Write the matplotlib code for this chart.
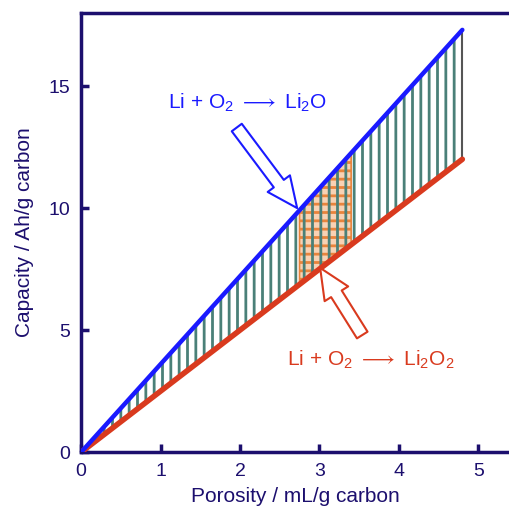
import matplotlib
matplotlib.use("Agg")
import matplotlib.pyplot as plt
import matplotlib.patches as mpatches

plt.rcParams['font.family'] = ['Liberation Sans', 'DejaVu Sans']
plt.rcParams['mathtext.fontset'] = 'custom'
plt.rcParams['mathtext.rm'] = 'Liberation Sans'
plt.rcParams['mathtext.it'] = 'Liberation Sans'
plt.rcParams['hatch.linewidth'] = 2.0

# capacity lines for the two discharge products
porosity = [0.0, 4.8]
cap_li2o = [0.0, 17.3]
cap_li2o2 = [0.0, 12.0]

# highlighted band
band_x = [2.75, 3.4]
band_low = [6.9, 8.5]
band_high = [9.95, 12.3]

x_ticks = [0, 1, 2, 3, 4, 5]
y_ticks = [0, 5, 10, 15]

navy = '#1c0f6e'
blue = '#1a1aff'
red = '#d93a1e'
teal = '#4a8078'

fig = plt.figure(figsize=(5.10, 5.11), dpi=100)
ax = fig.add_axes([0.159, 0.115, 0.841, 0.86])

# orange band with horizontal lines
ax.fill_between(band_x, band_low, band_high, facecolor='#f8d2b4',
                edgecolor='#e8843c', hatch='--', linewidth=1.2, zorder=1)
# vertical hatch between the lines
ax.fill_between(porosity, cap_li2o2, cap_li2o, facecolor='none',
                edgecolor=teal, hatch='||', linewidth=0, zorder=2)
ax.vlines(porosity[-1], cap_li2o2[-1], cap_li2o[-1], color='#555555', lw=1.5, zorder=2)

ax.plot(porosity, cap_li2o2, color=red, lw=4, solid_capstyle='round', zorder=3)
ax.plot(porosity, cap_li2o, color=blue, lw=3.2, solid_capstyle='round', zorder=4)

arrow_style = mpatches.ArrowStyle.Simple(head_length=1.1, head_width=1.0, tail_width=0.45)
ax.annotate('', xy=(2.72, 10.0), xytext=(1.96, 13.3),
            arrowprops=dict(arrowstyle=arrow_style, mutation_scale=20,
                            fc='white', ec=blue, lw=1.5, shrinkA=0, shrinkB=0), zorder=5)
ax.annotate('', xy=(3.01, 7.55), xytext=(3.54, 4.8),
            arrowprops=dict(arrowstyle=arrow_style, mutation_scale=20,
                            fc='white', ec=red, lw=1.5, shrinkA=0, shrinkB=0), zorder=5)

ax.text(2.1, 14.3, r'Li + O$_2$ $\longrightarrow$ Li$_2$O', color=blue, fontsize=15,
        ha='center', va='center')
ax.text(3.65, 3.8, r'Li + O$_2$ $\longrightarrow$ Li$_2$O$_2$', color=red, fontsize=15,
        ha='center', va='center')

ax.set_xlim(0, 5.4)
ax.set_ylim(0, 18)
ax.set_xticks(x_ticks)
ax.set_yticks(y_ticks)
ax.tick_params(direction='in', length=6, width=2.5, color=navy, labelcolor=navy,
               labelsize=14, pad=8)
for side in ['left', 'bottom', 'top']:
    ax.spines[side].set_color(navy)
    ax.spines[side].set_linewidth(2.5)
ax.spines['right'].set_visible(False)

ax.set_xlabel('Porosity / mL/g carbon', color=navy, fontsize=15, labelpad=5)
ax.set_ylabel('Capacity / Ah/g carbon', color=navy, fontsize=15, labelpad=10)

fig.savefig('out.png', dpi=100)
